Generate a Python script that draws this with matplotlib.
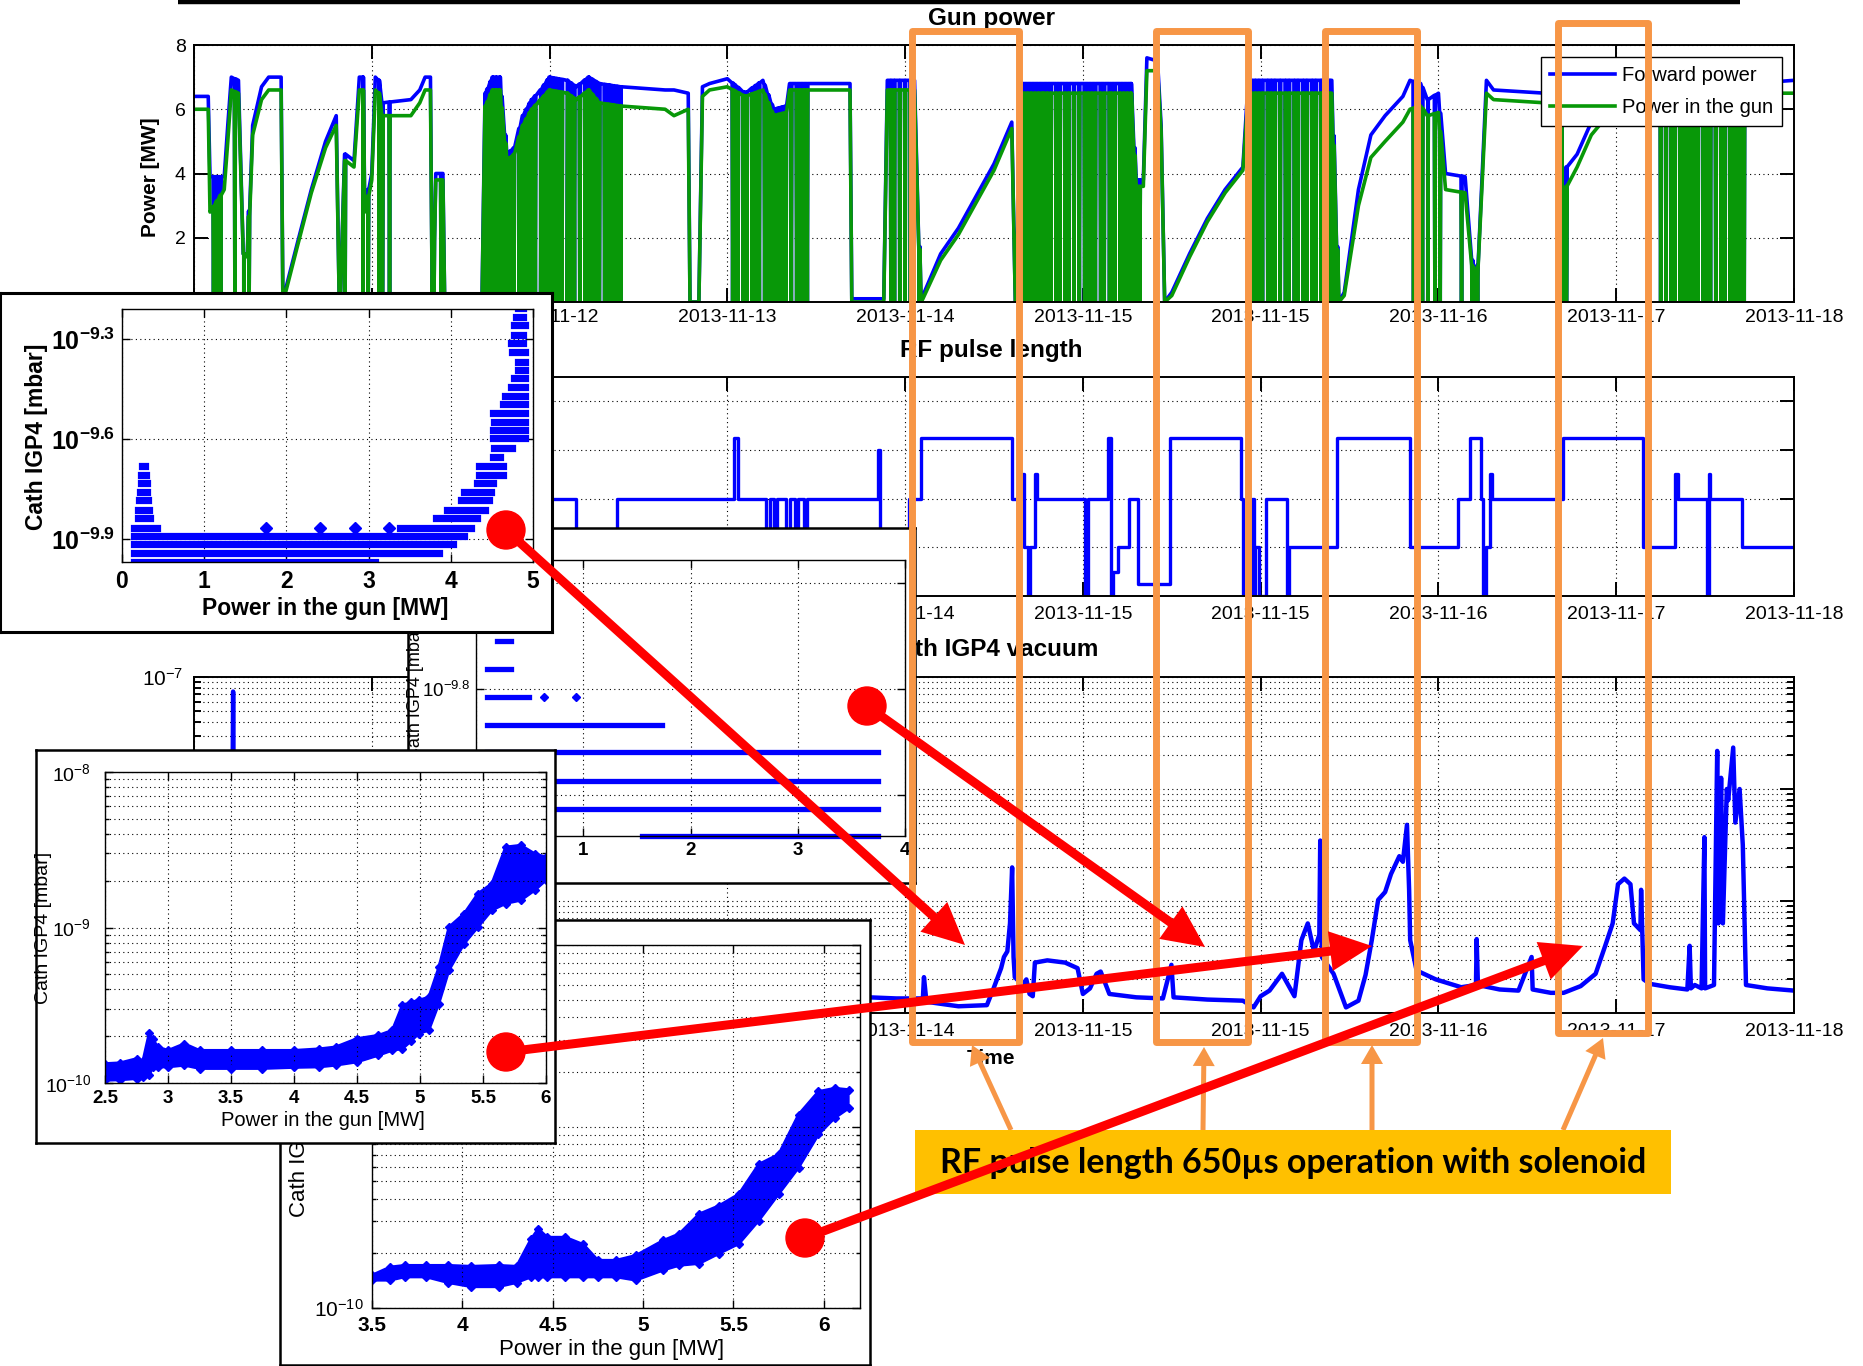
import numpy as np
import matplotlib
matplotlib.use("Agg")
import matplotlib.pyplot as plt
from matplotlib.patches import Rectangle, Circle
from matplotlib.ticker import NullLocator, LogLocator, NullFormatter

W, H = 1863, 1366

plt.rcParams["font.family"] = ["Liberation Sans", "DejaVu Sans"]
plt.rcParams["mathtext.fontset"] = "custom"
plt.rcParams["mathtext.rm"] = "Liberation Sans"
plt.rcParams["mathtext.it"] = "Liberation Sans:italic"
plt.rcParams["mathtext.bf"] = "Liberation Sans:bold"

BLUE = "#0000ff"
GREEN = "#089808"
ORANGE = "#f79646"
RED = "#ff0000"
GOLD = "#ffc000"
DOT = dict(linestyle=(0, (1, 3)), color="black", linewidth=0.8)

# time axis in tick intervals, labels as datetick printed them
date_labels = ["2013-11-11", "2013-11-11", "2013-11-12", "2013-11-13", "2013-11-14",
               "2013-11-15", "2013-11-15", "2013-11-16", "2013-11-17", "2013-11-18"]

# gun power [MW]
t_pow = [0.00, 0.08, 0.09, 0.17, 0.19, 0.21, 0.25, 0.28, 0.30, 0.33,
         0.38, 0.42, 0.49, 0.50, 0.52, 0.58, 0.66, 0.74, 0.80, 0.82,
         0.85, 0.90, 0.93, 0.95, 0.96, 1.00, 1.02, 1.04, 1.06, 1.22,
         1.27, 1.30, 1.33, 1.34, 1.36, 1.40, 1.41, 1.62, 1.64, 1.68,
         1.72, 1.76, 1.80, 1.85, 1.90, 1.95, 2.00, 2.10, 2.15, 2.22,
         2.28, 2.40, 2.65, 2.70, 2.78, 2.79, 2.84, 2.86, 2.90, 3.00,
         3.10, 3.20, 3.26, 3.33, 3.35, 3.69, 3.70, 3.88, 3.90, 4.05,
         4.09, 4.10, 4.20, 4.30, 4.40, 4.50, 4.60, 4.62, 4.66, 5.27,
         5.30, 5.34, 5.36, 5.42, 5.44, 5.46, 5.50, 5.60, 5.70, 5.80,
         5.90, 5.93, 6.40, 6.44, 6.47, 6.55, 6.62, 6.70, 6.80, 6.84,
         6.90, 6.94, 7.00, 7.04, 7.15, 7.21, 7.27, 7.31, 7.60, 7.69,
         7.70, 7.72, 7.78, 7.86, 7.95, 8.10, 8.30, 8.75, 9.00]
p_fwd = [6.4, 6.4, 3.9, 3.9, 5.5, 7.0, 6.9, 1.5, 1.5, 5.5,
         6.7, 7.0, 7.0, 0.0, 0.5, 1.8, 3.5, 5.0, 5.8, 0.0,
         4.6, 4.4, 7.0, 7.0, 3.0, 4.0, 7.0, 6.9, 6.2, 6.3,
         6.6, 7.0, 7.0, 0.0, 4.0, 4.0, 0.0, 0.0, 6.5, 7.0,
         7.0, 4.6, 4.8, 5.8, 6.3, 6.6, 7.0, 6.9, 6.7, 7.0,
         6.8, 6.7, 6.6, 6.6, 6.5, 0.0, 0.0, 6.7, 6.8, 6.95,
         6.5, 6.9, 6.0, 6.1, 6.8, 6.8, 0.1, 0.1, 6.9, 6.9,
         0.0, 0.2, 1.5, 2.3, 3.3, 4.3, 5.6, 0.0, 6.8, 6.8,
         3.8, 3.8, 7.6, 7.5, 5.5, 0.0, 0.3, 1.5, 2.6, 3.5,
         4.2, 6.9, 6.9, 0.0, 0.3, 3.5, 5.2, 5.8, 6.4, 6.9,
         6.8, 6.3, 6.5, 4.0, 3.9, 0.0, 6.9, 6.6, 6.5, 6.0,
         0.0, 4.2, 4.6, 5.6, 6.0, 6.4, 6.6, 6.8, 6.9]
p_gun = [6.0, 6.0, 2.8, 3.5, 5.0, 6.6, 6.5, 1.5, 1.4, 5.2,
         6.3, 6.6, 6.6, 0.0, 0.4, 1.7, 3.4, 4.8, 5.5, 0.0,
         4.4, 4.2, 6.6, 6.6, 2.8, 3.8, 6.6, 6.5, 5.8, 5.8,
         6.2, 6.6, 6.6, 0.0, 3.8, 3.8, 0.0, 0.0, 6.1, 6.6,
         6.6, 4.4, 4.6, 5.5, 6.0, 6.3, 6.6, 6.5, 6.3, 6.6,
         6.2, 6.1, 6.0, 5.8, 6.0, 0.0, 0.0, 6.4, 6.6, 6.7,
         6.4, 6.6, 5.8, 5.9, 6.6, 6.6, 0.0, 0.0, 6.6, 6.6,
         0.0, 0.1, 1.3, 2.1, 3.1, 4.1, 5.4, 0.0, 6.5, 6.5,
         3.6, 3.6, 7.2, 7.2, 5.3, 0.0, 0.2, 1.4, 2.5, 3.4,
         4.1, 6.5, 6.5, 0.0, 0.2, 3.0, 4.5, 5.0, 5.6, 6.0,
         6.1, 5.8, 5.9, 3.5, 3.4, 0.0, 6.5, 6.3, 6.2, 5.6,
         0.0, 3.6, 4.2, 5.2, 5.8, 6.1, 6.3, 6.5, 6.5]
# RF trips: moments where the power falls to zero
trips = [0.11, 0.13, 0.15, 0.23, 0.28, 0.31, 0.82, 0.85, 0.95, 0.98, 1.04, 1.06, 1.10, 1.35, 1.39,
         1.64, 1.65, 1.67, 1.68, 1.70, 1.72, 1.73, 1.75, 1.77, 1.78, 1.80, 1.83, 1.85, 1.87, 1.89,
         1.90, 1.92, 1.95, 1.97, 1.99, 2.00, 2.02, 2.04, 2.05, 2.07, 2.10, 2.12, 2.14, 2.17, 2.20,
         2.22, 2.24, 2.26, 2.28, 2.31, 2.33, 2.34, 2.36, 2.38, 2.40,
         2.80, 3.03, 3.04, 3.06, 3.09, 3.11, 3.14, 3.16, 3.18, 3.21, 3.23, 3.25, 3.27, 3.29, 3.31,
         3.33, 3.36, 3.39, 3.41, 3.43, 3.45,
         3.92, 3.94, 3.97, 4.00, 4.03, 4.05, 4.08,
         4.67, 4.69, 4.71, 4.73, 4.75, 4.77, 4.78, 4.80, 4.82, 4.85, 4.87, 4.90, 4.92, 4.95, 4.98,
         5.01, 5.03, 5.05, 5.07, 5.10, 5.12, 5.15, 5.16, 5.18, 5.21, 5.23, 5.25, 5.27, 5.29, 5.31,
         5.32,
         5.95, 5.97, 5.99, 6.01, 6.04, 6.06, 6.08, 6.11, 6.14, 6.16, 6.19, 6.21, 6.24, 6.26, 6.29,
         6.31, 6.34, 6.36, 6.39, 6.41, 6.43,
         6.86, 6.89, 6.91, 6.94, 6.98, 7.01, 7.13, 7.19, 7.22,
         7.69, 7.72,
         8.25, 8.28, 8.31, 8.33, 8.36, 8.38, 8.40, 8.42, 8.44, 8.46, 8.49, 8.51, 8.53, 8.56, 8.59,
         8.61, 8.64, 8.66, 8.68, 8.70, 8.72]

# RF pulse length [us]
t_rf = [0.00, 2.15, 2.38, 3.04, 3.06, 3.22, 3.24, 3.26, 3.28, 3.33,
        3.35, 3.38, 3.40, 3.43, 3.45, 3.85, 3.86, 4.02, 4.09, 4.60,
        4.66, 4.67, 4.69, 4.70, 4.73, 4.74, 5.01, 5.03, 5.14, 5.16,
        5.17, 5.20, 5.26, 5.31, 5.49, 5.89, 5.90, 5.95, 5.96, 5.97,
        5.99, 6.03, 6.15, 6.16, 6.43, 6.84, 7.11, 7.18, 7.24, 7.25,
        7.27, 7.29, 7.30, 7.70, 8.15, 8.33, 8.35, 8.51, 8.52, 8.53,
        8.71, 9.00]
rf_us = [400, 200, 400, 650, 400, 200, 400, 250, 400, 200,
         400, 150, 400, 200, 400, 600, 200, 400, 650, 400,
         500, 200, 0, 200, 500, 400, 0, 400, 650, 0,
         100, 200, 400, 50, 650, 400, 0, 400, 0, 200,
         0, 400, 0, 200, 650, 200, 400, 650, 400, 0,
         200, 500, 400, 650, 200, 500, 400, 0, 500, 400,
         200, 200]

# cathode IGP4 vacuum, log10 of pressure in mbar
t_vac = [0.00, 0.21, 0.22, 0.23, 1.00, 2.00, 3.00, 3.75, 3.95, 4.10,
         4.106, 4.12, 4.30, 4.46, 4.50, 4.54, 4.556, 4.575, 4.59, 4.602,
         4.61, 4.617, 4.66, 4.682, 4.70, 4.718, 4.73, 4.80, 4.90, 4.97,
         5.00, 5.04, 5.077, 5.10, 5.149, 5.30, 5.45, 5.498, 5.51, 5.70,
         5.90, 5.96, 6.00, 6.05, 6.12, 6.19, 6.229, 6.265, 6.30, 6.33,
         6.335, 6.344, 6.41, 6.48, 6.55, 6.59, 6.625, 6.661, 6.70, 6.733,
         6.78, 6.80, 6.823, 6.835, 6.841, 6.877, 6.985, 7.128, 7.211, 7.215,
         7.222, 7.344, 7.45, 7.524, 7.53, 7.632, 7.704, 7.80, 7.884, 7.938,
         7.98, 8.01, 8.046, 8.08, 8.10, 8.136, 8.14, 8.154, 8.19, 8.30,
         8.40, 8.413, 8.42, 8.442, 8.48, 8.496, 8.50, 8.55, 8.568, 8.575,
         8.59, 8.60, 8.622, 8.63, 8.658, 8.67, 8.694, 8.712, 8.73, 8.85,
         9.00]
vac_exp = [-9.85, -9.85, -7.13, -9.85, -9.80, -9.85, -9.83, -9.857, -9.87, -9.87,
           -9.68, -9.90, -9.94, -9.93, -9.77, -9.60, -9.50, -9.45, -9.20, -8.70,
           -9.50, -9.68, -9.75, -9.70, -9.83, -9.85, -9.55, -9.53, -9.55, -9.60,
           -9.83, -9.78, -9.65, -9.63, -9.83, -9.86, -9.87, -9.57, -9.86, -9.88,
           -9.89, -9.95, -9.85, -9.80, -9.65, -9.85, -9.35, -9.20, -9.45, -9.30,
           -8.46, -9.50, -9.65, -9.95, -9.89, -9.66, -9.35, -8.99, -8.92, -8.76,
           -8.60, -8.65, -8.32, -8.90, -9.35, -9.62, -9.70, -9.77, -9.75, -9.34,
           -9.75, -9.79, -9.80, -9.50, -9.79, -9.82, -9.82, -9.76, -9.65, -9.40,
           -9.20, -8.85, -8.80, -8.85, -9.20, -9.26, -8.90, -9.70, -9.74, -9.77,
           -9.79, -9.40, -9.78, -9.75, -9.78, -8.43, -9.78, -9.75, -7.66, -9.20,
           -7.90, -9.20, -8.00, -8.10, -7.63, -8.30, -8.00, -8.50, -9.75, -9.78,
           -9.80]

# scatter 1: pressure vs gun power, quantised readings (row level, power from, power to)
s1_exp = [-9.967, -9.940, -9.914, -9.889, -9.865, -9.865, -9.837, -9.837, -9.812, -9.812,
          -9.782, -9.782, -9.757, -9.757, -9.732, -9.732, -9.707, -9.707, -9.680, -9.680,
          -9.652, -9.625, -9.597, -9.572, -9.547, -9.520, -9.495, -9.470, -9.442, -9.417,
          -9.392, -9.367, -9.337, -9.312, -9.287, -9.257, -9.232, -9.207]
s1_from = [0.15, 0.15, 0.15, 0.15, 0.15, 3.38, 0.19, 3.82, 0.20, 3.95,
           0.21, 4.13, 0.22, 4.16, 0.23, 4.32, 0.23, 4.34, 0.24, 4.34,
           4.51, 4.53, 4.51, 4.51, 4.53, 4.51, 4.64, 4.66, 4.73, 4.77,
           4.82, 4.82, 4.75, 4.73, 4.77, 4.77, 4.79, 4.82]
s1_to = [3.08, 3.86, 4.03, 4.16, 0.43, 4.25, 0.34, 4.32, 0.33, 4.42,
         0.32, 4.47, 0.31, 4.49, 0.30, 4.51, 0.29, 4.64, 0.28, 4.64,
         4.60, 4.75, 4.90, 4.90, 4.90, 4.90, 4.90, 4.90, 4.90, 4.90,
         4.90, 4.90, 4.90, 4.88, 4.88, 4.90, 4.88, 4.88]
s1_pts_x = [1.75, 2.41, 2.84, 3.25]
s1_pts_exp = [-9.865, -9.865, -9.865, -9.865]

# scatter 2
s2_exp = [-9.939, -9.913, -9.887, -9.860, -9.834, -9.808, -9.781, -9.755]
s2_from = [1.55, 0.10, 0.10, 0.10, 0.10, 0.10, 0.10, 0.20]
s2_to = [3.75, 3.75, 3.75, 3.75, 1.73, 0.49, 0.33, 0.33]
s2_pts_x = [0.63, 0.93]
s2_pts_exp = [-9.808, -9.808]

# scatter 3: envelope of the point cloud
s3_p = [2.50, 2.62, 2.75, 2.80, 2.85, 2.88, 2.92, 3.00, 3.13, 3.25, 3.50, 3.75, 4.00, 4.20, 4.33,
        4.50, 4.67, 4.78, 4.86, 4.93, 4.99, 5.07, 5.15, 5.23, 5.35, 5.46, 5.57, 5.68, 5.80, 5.91, 6.00]
s3_hi = [-9.875, -9.87, -9.843, -9.86, -9.68, -9.72, -9.768, -9.79, -9.747, -9.79, -9.79, -9.79,
         -9.79, -9.78, -9.768, -9.714, -9.693, -9.661, -9.50, -9.48, -9.468, -9.447, -9.254, -8.997,
         -8.911, -8.782, -8.718, -8.482, -8.471, -8.525, -8.547]
s3_lo = [-9.983, -9.98, -9.972, -9.96, -9.95, -9.90, -9.897, -9.897, -9.886, -9.907, -9.907, -9.907,
         -9.90, -9.897, -9.886, -9.865, -9.822, -9.79, -9.78, -9.73, -9.682, -9.661, -9.489, -9.275,
         -9.104, -8.997, -8.889, -8.846, -8.825, -8.761, -8.696]

# scatter 4
s4_p = [3.50, 3.60, 3.68, 3.80, 3.92, 4.05, 4.20, 4.30, 4.38, 4.42, 4.47, 4.57, 4.67, 4.75,
        4.85, 4.96, 5.11, 5.20, 5.31, 5.42, 5.53, 5.64, 5.75, 5.86, 5.97, 6.06, 6.14]
s4_hi = [-9.819, -9.774, -9.765, -9.765, -9.765, -9.77, -9.765, -9.77, -9.62, -9.564, -9.61, -9.61,
         -9.65, -9.737, -9.737, -9.71, -9.628, -9.591, -9.482, -9.436, -9.372, -9.208, -9.153,
         -8.934, -8.807, -8.789, -8.797]
s4_lo = [-9.847, -9.847, -9.829, -9.829, -9.86, -9.883, -9.883, -9.86, -9.829, -9.829, -9.829,
         -9.829, -9.829, -9.829, -9.829, -9.847, -9.792, -9.765, -9.755, -9.70, -9.646, -9.518,
         -9.372, -9.227, -9.044, -8.953, -8.898]

# periods at 650 us with solenoid
sol_windows = [(4.04, 4.64), (5.41, 5.93), (6.36, 6.88), (7.67, 8.18)]

assert len(t_pow) == len(p_fwd) == len(p_gun)
assert len(t_rf) == len(rf_us)
assert len(t_vac) == len(vac_exp)
assert len(s1_exp) == len(s1_from) == len(s1_to)
assert len(s3_p) == len(s3_hi) == len(s3_lo)
assert len(s4_p) == len(s4_hi) == len(s4_lo)


def px_rect(x0, y0, x1, y1):
    return [x0 / W, 1 - y1 / H, (x1 - x0) / W, (y1 - y0) / H]


def ptext(ax, x, y, s, **kw):
    kw.setdefault("ha", "center")
    kw.setdefault("va", "center")
    ax.text(x / W, 1 - y / H, s, transform=fig.transFigure, **kw)


def style(ax, size, pad=4, tick=7, lw=1.0):
    for sp in ax.spines.values():
        sp.set_linewidth(lw)
    ax.tick_params(which="both", direction="in", top=True, right=True,
                   labelsize=size, pad=pad, width=lw)
    ax.tick_params(which="major", length=tick)
    ax.tick_params(which="minor", length=tick * 0.5)


def with_trips(t, p, drops):
    t = np.asarray(t, float)
    p = np.asarray(p, float)
    d = np.asarray(drops, float)
    top = np.interp(d, t, p)
    eps = 0.003
    tt = np.concatenate([t, d - eps, d, d + eps])
    pp = np.concatenate([p, top, np.zeros_like(d), top])
    k = np.argsort(tt, kind="stable")
    return tt[k], pp[k]


def frame(box, z, lw=2.0):
    fr = fig.add_axes(px_rect(*box))
    fr.set_xticks([])
    fr.set_yticks([])
    for sp in fr.spines.values():
        sp.set_linewidth(lw)
    fr.set_zorder(z)
    return fr


def log_ticks(ax, exps, bold=False):
    vals = [10.0 ** e for e in exps]
    if bold:
        labs = [r"$\mathbf{10^{%s}}$" % ("%g" % e) for e in exps]
    else:
        labs = [r"$10^{%s}$" % ("%g" % e) for e in exps]
    ax.set_yticks(vals, labs)


fig = plt.figure(figsize=(W / 100, H / 100), dpi=100)

# ---------------- gun power
ax1 = fig.add_axes(px_rect(194, 45, 1794, 302))
tf, pf = with_trips(t_pow, p_fwd, trips)
tg, pg = with_trips(t_pow, p_gun, trips)
ax1.plot(tf, pf, color=BLUE, lw=2.6, label="Forward power")
ax1.plot(tg, pg, color=GREEN, lw=2.6, label="Power in the gun")
ax1.set_xlim(0, 9)
ax1.set_ylim(0, 8)
ax1.set_xticks(range(10), date_labels)
ax1.set_yticks([0, 2, 4, 6, 8])
ax1.grid(True, **DOT)
style(ax1, 14, pad=5, tick=10, lw=1.4)
ax1.tick_params(axis="y", pad=6)
leg = ax1.legend(loc="upper right", bbox_to_anchor=(0.9925, 0.953), fontsize=14.5,
                 fancybox=False, edgecolor="black", framealpha=1, borderaxespad=0,
                 handlelength=3.2, handletextpad=0.35, labelspacing=0.65, borderpad=0.45)
leg.get_frame().set_linewidth(1.0)
ptext(ax1, 991, 19, "Gun power", fontsize=17.5, fontweight="bold")
ptext(ax1, 150, 177, "Power [MW]", rotation=90, fontsize=15, fontweight="bold")

# ---------------- RF pulse length
ax2 = fig.add_axes(px_rect(194, 377, 1794, 596))
ax2.plot(t_rf, rf_us, color=BLUE, lw=2.4, drawstyle="steps-post")
ax2.set_xlim(0, 9)
ax2.set_ylim(0, 900)
ax2.set_xticks(range(10), date_labels)
ax2.set_yticks([0, 200, 400, 600, 800])
ax2.grid(True, **DOT)
style(ax2, 14, pad=7.5, tick=10, lw=1.4)
ptext(ax2, 991, 350, "RF pulse length", fontsize=17.5, fontweight="bold")

# ---------------- cathode vacuum
ax3 = fig.add_axes(px_rect(194, 677, 1794, 1013))
ax3.plot(t_vac, 10.0 ** np.asarray(vac_exp), color=BLUE, lw=3.2)
ax3.set_xlim(0, 9)
ax3.set_yscale("log")
ax3.set_ylim(1e-10, 1e-7)
ax3.set_xticks(range(10), date_labels)
log_ticks(ax3, [-10, -9, -8, -7])
ax3.yaxis.set_minor_locator(LogLocator(base=10, subs=range(2, 10)))
ax3.yaxis.set_minor_formatter(NullFormatter())
ax3.grid(True, which="both", **DOT)
style(ax3, 14, pad=7.5, tick=10, lw=1.4)
ax3.tick_params(axis="y", labelsize=15, pad=8)
ptext(ax3, 991, 650, "Cath IGP4 vacuum", fontsize=17.5, fontweight="bold")
ptext(ax3, 991, 1059, "Time", fontsize=15, fontweight="bold")

# ---------------- scatter 2 (0-4 MW)
frame((408, 528, 915, 883), 4, lw=1.8)
a2 = fig.add_axes(px_rect(476, 560, 905, 836))
a2.set_zorder(5)
for e, x0, x1 in zip(s2_exp, s2_from, s2_to):
    a2.plot([x0, x1], [10.0 ** e] * 2, color=BLUE, lw=3.8, clip_on=False)
a2.plot(s2_pts_x, 10.0 ** np.asarray(s2_pts_exp), "D", color=BLUE, ms=4, clip_on=False)
a2.set_yscale("log")
a2.set_xlim(0, 4)
a2.set_ylim(10 ** -9.939, 10 ** -9.678)
a2.set_xticks(range(5), [str(i) for i in range(5)], fontweight="bold")
log_ticks(a2, [-9.9, -9.8, -9.7])
a2.yaxis.set_minor_locator(NullLocator())
a2.grid(True, **DOT)
style(a2, 13.5, pad=4, tick=6, lw=1.0)
ptext(a2, 416, 690, "Cath IGP4 [mbar]", rotation=90, fontsize=13)

# ---------------- scatter 1 (0-5 MW)
frame((0, 293, 552, 632), 6, lw=2.2)
a1 = fig.add_axes(px_rect(122, 309, 533, 562))
a1.set_zorder(7)
for e, x0, x1 in zip(s1_exp, s1_from, s1_to):
    a1.plot([x0, x1], [10.0 ** e] * 2, color=BLUE, lw=5.2)
a1.plot(s1_pts_x, 10.0 ** np.asarray(s1_pts_exp), "D", color=BLUE, ms=6)
a1.set_yscale("log")
a1.set_xlim(0, 5)
a1.set_ylim(10 ** -9.968, 10 ** -9.209)
a1.set_xticks(range(6), [str(i) for i in range(6)], fontweight="bold")
log_ticks(a1, [-9.9, -9.6, -9.3], bold=True)
a1.yaxis.set_minor_locator(NullLocator())
a1.grid(True, **DOT)
style(a1, 16.5, pad=6, tick=6, lw=1.0)
a1.tick_params(axis="y", labelsize=18, pad=5)
ptext(a1, 325, 608, "Power in the gun [MW]", fontsize=16.5, fontweight="bold")
ptext(a1, 37, 437, "Cath IGP4 [mbar]", rotation=90, fontsize=16.5, fontweight="bold")

# ---------------- scatter 4 (3.5-6.2 MW)
frame((280, 920, 870, 1365), 8, lw=1.8)
a4 = fig.add_axes(px_rect(372, 945, 860, 1308))
a4.set_zorder(9)
hi4 = 10.0 ** np.asarray(s4_hi)
lo4 = 10.0 ** np.asarray(s4_lo)
a4.fill_between(s4_p, lo4, hi4, color=BLUE, lw=0)
a4.plot(s4_p, hi4, "-D", color=BLUE, lw=2, ms=4)
a4.plot(s4_p, lo4, "-D", color=BLUE, lw=2, ms=4)
a4.set_yscale("log")
a4.set_xlim(3.5, 6.2)
a4.set_ylim(1e-10, 1e-8)
a4.set_xticks([3.5, 4, 4.5, 5, 5.5, 6], ["3.5", "4", "4.5", "5", "5.5", "6"], fontweight="bold")
log_ticks(a4, [-10, -9, -8])
a4.yaxis.set_minor_locator(LogLocator(base=10, subs=range(2, 10)))
a4.yaxis.set_minor_formatter(NullFormatter())
a4.grid(True, which="both", **DOT)
style(a4, 15, pad=6, tick=6, lw=1.0)
ptext(a4, 612, 1350, "Power in the gun [MW]", fontsize=16)
ptext(a4, 300, 1130, "Cath IGP4 [mbar]", rotation=90, fontsize=16)

# ---------------- scatter 3 (2.5-6 MW)
frame((36, 750, 555, 1143), 10, lw=1.8)
a3 = fig.add_axes(px_rect(105, 772, 546, 1083))
a3.set_zorder(11)
hi3 = 10.0 ** np.asarray(s3_hi)
lo3 = 10.0 ** np.asarray(s3_lo)
a3.fill_between(s3_p, lo3, hi3, color=BLUE, lw=0)
a3.plot(s3_p, hi3, "-D", color=BLUE, lw=2, ms=4)
a3.plot(s3_p, lo3, "-D", color=BLUE, lw=2, ms=4)
a3.set_yscale("log")
a3.set_xlim(2.5, 6)
a3.set_ylim(1e-10, 1e-8)
a3.set_xticks([2.5, 3, 3.5, 4, 4.5, 5, 5.5, 6],
              ["2.5", "3", "3.5", "4", "4.5", "5", "5.5", "6"], fontweight="bold")
log_ticks(a3, [-10, -9, -8])
a3.yaxis.set_minor_locator(LogLocator(base=10, subs=range(2, 10)))
a3.yaxis.set_minor_formatter(NullFormatter())
a3.grid(True, which="both", **DOT)
style(a3, 13.5, pad=5, tick=6, lw=1.0)
a3.tick_params(axis="y", labelsize=14, pad=10)
ptext(a3, 323, 1120, "Power in the gun [MW]", fontsize=14.5)
ptext(a3, 44, 928, "Cath IGP4 [mbar]", rotation=90, fontsize=14)

# ---------------- annotations on top
ov = fig.add_axes([0, 0, 1, 1])
ov.set_xlim(0, W)
ov.set_ylim(H, 0)
ov.axis("off")
ov.set_zorder(30)

ov.plot([178, 1740], [2, 2], color="black", lw=3.2, solid_capstyle="butt")

fig.canvas.draw()
box_top = [31, 31, 31, 23]
box_bottom = [1042, 1042, 1042, 1033]
for (t0, t1), yt, yb in zip(sol_windows, box_top, box_bottom):
    x0 = ax1.transData.transform((t0, 0))[0]
    x1 = ax1.transData.transform((t1, 0))[0]
    ov.add_patch(Rectangle((x0, yt), x1 - x0, yb - yt, fill=False, edgecolor=ORANGE,
                           lw=5, joinstyle="round", zorder=2))

orange_from = [(1011, 1130), (1203, 1130), (1372, 1130), (1563, 1130)]
orange_to = [(972, 1045), (1204, 1047), (1372, 1045), (1603, 1038)]
for (xa, ya), (xb, yb) in zip(orange_from, orange_to):
    ov.arrow(xa, ya, xb - xa, yb - ya, width=5, head_width=22, head_length=19,
             length_includes_head=True, color=ORANGE, lw=0, zorder=3)

ov.add_patch(Rectangle((915, 1130), 756, 64, facecolor=GOLD, edgecolor="none", zorder=4))
ov.text(1293, 1163, "RF pulse length 650\u00b5s operation with solenoid", ha="center",
        va="center", fontsize=24.5, fontweight="bold", family=["Lato", "DejaVu Sans"], zorder=5)

red_from = [(506, 530), (867, 706), (506, 1052), (805, 1238)]
red_to = [(965, 945), (1205, 947), (1372, 946), (1583, 946)]
for (xa, ya), (xb, yb) in zip(red_from, red_to):
    ov.arrow(xa, ya, xb - xa, yb - ya, width=9, head_width=40, head_length=42,
             length_includes_head=True, color=RED, lw=0, zorder=6)
    ov.add_patch(Circle((xa, ya), 19, color=RED, zorder=7))

fig.savefig("out.png", dpi=100)
